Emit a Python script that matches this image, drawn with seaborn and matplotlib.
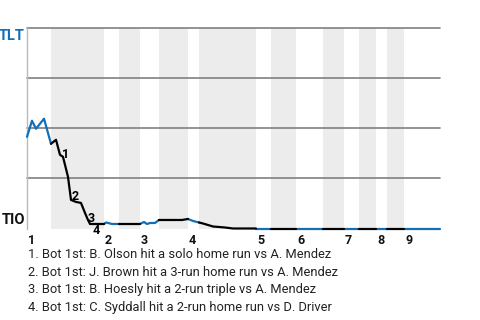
import matplotlib
matplotlib.use("Agg")
import matplotlib.pyplot as plt
import seaborn as sns
import pandas as pd

# ---- data ----
# game position (play progress units) and TLT win probability (%)
wp_pos = [0, 5, 9, 17, 24, 29, 33, 36, 41, 44, 49, 54, 58, 61, 63, 77,
          79, 85, 92, 113, 117, 120, 123, 128, 132, 155, 161, 166, 172, 176,
          186, 198, 206, 229, 244, 269, 296, 317, 332, 349, 360, 377, 413]
wp_val = [45.75, 53.75, 49.75, 54.75, 42.25, 44.25, 36.75, 35.75, 25.75, 14.25,
          13.25, 12.75, 7.75, 4.25, 2.25, 2.25, 3.0, 2.25, 2.25, 2.25,
          3.25, 2.25, 2.75, 2.75, 4.25, 4.25, 4.75, 3.75, 3.0, 2.5,
          1.0, 0.5, 0.0, 0.0, 0.0, 0.0, 0.0, 0.0, 0.0, 0.0, 0.0, 0.0, 0.0]
# half-inning boundaries (start of each half), last value is end of game
half_starts = [0, 24, 77, 92, 113, 132, 161, 172, 229, 244, 269, 296, 317, 332, 349, 360, 377, 413]
innings = ["1", "2", "3", "4", "5", "6", "7", "8", "9"]
teams = ["TLT", "TIO"]
event_pos = [33, 44, 61, 63]
event_labels = ["1", "2", "3", "4"]
event_texts = [
    "1. Bot 1st: B. Olson hit a solo home run vs A. Mendez",
    "2. Bot 1st: J. Brown hit a 3-run home run vs A. Mendez",
    "3. Bot 1st: B. Hoesly hit a 2-run triple vs A. Mendez",
    "4. Bot 1st: C. Syddall hit a 2-run home run vs D. Driver",
]

BLUE = "#1170b8"
sns.set_theme(style="white")
plt.rcParams["font.family"] = ["Roboto", "DejaVu Sans"]

fig = plt.figure(figsize=(4.8, 3.2), dpi=100)
W, H = 480, 320
ax = fig.add_axes([27 / W, 1 - 228.5 / H, (440 - 27) / W, 200.5 / H])

# build segments per half inning
rows = []
for i in range(len(half_starts) - 1):
    s, e = half_starts[i], half_starts[i + 1]
    team = "TLT" if i % 2 == 0 else "TIO"
    for p, v in zip(wp_pos, wp_val):
        if s <= p <= e:
            rows.append({"pos": p, "wp": v, "seg": i, "team": team})
df = pd.DataFrame(rows)

# shaded bottom halves
for i in range(1, len(half_starts) - 1, 2):
    ax.axvspan(half_starts[i], half_starts[i + 1], color="#ececec", lw=0, zorder=0)

for yv in [25, 50, 75, 100]:
    ax.axhline(yv, color="#808080", lw=1.2, zorder=1, clip_on=False)

sns.lineplot(data=df, x="pos", y="wp", units="seg", hue="team", estimator=None,
             sort=False, palette={"TLT": BLUE, "TIO": "#000000"}, lw=1.6,
             legend=False, ax=ax, clip_on=False, zorder=3)

ax.set_xlim(0, 413)
ax.set_ylim(0, 100)
for sp in ["top", "right", "bottom"]:
    ax.spines[sp].set_visible(False)
ax.spines["left"].set_color("#bbbbbb")
ax.spines["left"].set_linewidth(1)
ax.set_xticks([])
ax.set_yticks([])
ax.set_xlabel("")
ax.set_ylabel("")

# inning labels at start of each top half
for k, lab in enumerate(innings):
    ax.annotate(lab, xy=(half_starts[2 * k], 0), xytext=(1, -6), textcoords="offset pixels",
                ha="left", va="top", fontsize=9, fontweight="bold", color="#111111",
                annotation_clip=False)

ax.annotate(teams[0], xy=(0, 100), xytext=(-2, -1), textcoords="offset pixels",
            ha="right", va="top", fontsize=10.5, fontweight="bold", color=BLUE,
            annotation_clip=False)
ax.annotate(teams[1], xy=(0, 0), xytext=(-2, 2), textcoords="offset pixels",
            ha="right", va="bottom", fontsize=10.5, fontweight="bold", color="#111111",
            annotation_clip=False)

offsets = [((2, 0), "left", "center"), ((1, 0), "left", "baseline"),
           ((0, -2), "left", "baseline"), ((3, 0), "left", "top")]
for p, lab, (off, ha, va) in zip(event_pos, event_labels, offsets):
    v = wp_val[wp_pos.index(p)]
    ax.annotate(lab, xy=(p, v), xytext=off, textcoords="offset pixels", ha=ha, va=va,
                fontsize=9, fontweight="bold", color="#000000", annotation_clip=False, zorder=4)

for k, t in enumerate(event_texts):
    fig.text(28 / W, 1 - (255 + 17.5 * k) / H, t, ha="left", va="center",
             fontsize=9.3, color="#222222")

fig.savefig("out.png", dpi=100)
